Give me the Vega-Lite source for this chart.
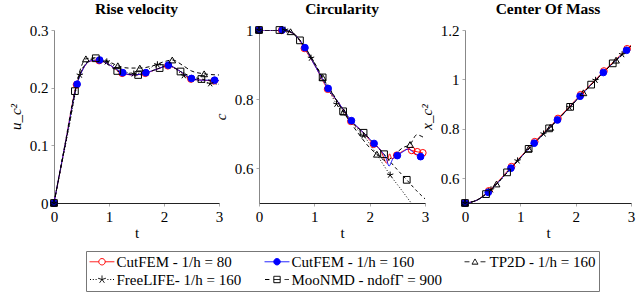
{
"$schema": "https://vega.github.io/schema/vega-lite/v6.json",
"padding": {"left": 8, "top": 1, "right": 5, "bottom": 3},
"background": "white",
"spacing": 40,
"bounds": "flush",
"datasets": {"d": [
{"p":"r","s":"R80","t":0,"v":0,"m":1},{"p":"r","s":"R80","t":0.41,"v":0.205,"m":1},{"p":"r","s":"R80","t":0.82,"v":0.247,"m":1},{"p":"r","s":"R80","t":1.24,"v":0.225,"m":1},{"p":"r","s":"R80","t":1.66,"v":0.225,"m":1},{"p":"r","s":"R80","t":2.07,"v":0.238,"m":1},{"p":"r","s":"R80","t":2.49,"v":0.215,"m":1},{"p":"r","s":"R80","t":2.91,"v":0.212,"m":1},
{"p":"r","s":"R80","t":0.2,"v":0.1,"m":0},{"p":"r","s":"R80","t":0.55,"v":0.236,"m":0},{"p":"r","s":"R80","t":0.65,"v":0.246,"m":0},{"p":"r","s":"R80","t":1.0,"v":0.24,"m":0},{"p":"r","s":"R80","t":1.45,"v":0.222,"m":0},{"p":"r","s":"R80","t":1.9,"v":0.233,"m":0},{"p":"r","s":"R80","t":2.25,"v":0.231,"m":0},{"p":"r","s":"R80","t":2.7,"v":0.213,"m":0},{"p":"r","s":"R80","t":3.0,"v":0.212,"m":0},
{"p":"r","s":"B160","t":0,"v":0,"m":1},{"p":"r","s":"B160","t":0.42,"v":0.206,"m":1},{"p":"r","s":"B160","t":0.83,"v":0.248,"m":1},{"p":"r","s":"B160","t":1.25,"v":0.226,"m":1},{"p":"r","s":"B160","t":1.67,"v":0.226,"m":1},{"p":"r","s":"B160","t":2.08,"v":0.239,"m":1},{"p":"r","s":"B160","t":2.5,"v":0.216,"m":1},{"p":"r","s":"B160","t":2.92,"v":0.213,"m":1},
{"p":"r","s":"B160","t":0.2,"v":0.1,"m":0},{"p":"r","s":"B160","t":0.55,"v":0.236,"m":0},{"p":"r","s":"B160","t":0.65,"v":0.246,"m":0},{"p":"r","s":"B160","t":1.0,"v":0.24,"m":0},{"p":"r","s":"B160","t":1.45,"v":0.222,"m":0},{"p":"r","s":"B160","t":1.9,"v":0.233,"m":0},{"p":"r","s":"B160","t":2.25,"v":0.231,"m":0},{"p":"r","s":"B160","t":2.7,"v":0.213,"m":0},{"p":"r","s":"B160","t":3.0,"v":0.212,"m":0},
{"p":"r","s":"TP","t":0,"v":0,"m":1},{"p":"r","s":"TP","t":0.58,"v":0.25,"m":1},{"p":"r","s":"TP","t":1.16,"v":0.238,"m":1},{"p":"r","s":"TP","t":1.56,"v":0.234,"m":1},{"p":"r","s":"TP","t":2.15,"v":0.248,"m":1},{"p":"r","s":"TP","t":2.73,"v":0.224,"m":1},
{"p":"r","s":"TP","t":0.3,"v":0.148,"m":0},{"p":"r","s":"TP","t":0.45,"v":0.222,"m":0},{"p":"r","s":"TP","t":0.8,"v":0.252,"m":0},{"p":"r","s":"TP","t":1.0,"v":0.245,"m":0},{"p":"r","s":"TP","t":1.35,"v":0.234,"m":0},{"p":"r","s":"TP","t":1.8,"v":0.238,"m":0},{"p":"r","s":"TP","t":2.0,"v":0.245,"m":0},{"p":"r","s":"TP","t":2.35,"v":0.238,"m":0},{"p":"r","s":"TP","t":2.5,"v":0.229,"m":0},{"p":"r","s":"TP","t":3.0,"v":0.222,"m":0},
{"p":"r","s":"FL","t":0,"v":0,"m":1},{"p":"r","s":"FL","t":0.47,"v":0.222,"m":1},{"p":"r","s":"FL","t":0.96,"v":0.245,"m":1},{"p":"r","s":"FL","t":1.45,"v":0.224,"m":1},{"p":"r","s":"FL","t":1.88,"v":0.24,"m":1},{"p":"r","s":"FL","t":2.36,"v":0.221,"m":1},{"p":"r","s":"FL","t":2.84,"v":0.207,"m":1},
{"p":"r","s":"FL","t":0.25,"v":0.12,"m":0},{"p":"r","s":"FL","t":0.7,"v":0.25,"m":0},{"p":"r","s":"FL","t":1.2,"v":0.232,"m":0},{"p":"r","s":"FL","t":1.65,"v":0.228,"m":0},{"p":"r","s":"FL","t":2.1,"v":0.238,"m":0},{"p":"r","s":"FL","t":2.6,"v":0.213,"m":0},{"p":"r","s":"FL","t":3.0,"v":0.206,"m":0},
{"p":"r","s":"MN","t":0,"v":0,"m":1},{"p":"r","s":"MN","t":0.38,"v":0.194,"m":1},{"p":"r","s":"MN","t":0.76,"v":0.251,"m":1},{"p":"r","s":"MN","t":1.15,"v":0.229,"m":1},{"p":"r","s":"MN","t":1.53,"v":0.222,"m":1},{"p":"r","s":"MN","t":1.92,"v":0.234,"m":1},{"p":"r","s":"MN","t":2.3,"v":0.228,"m":1},{"p":"r","s":"MN","t":2.68,"v":0.215,"m":1},
{"p":"r","s":"MN","t":0.2,"v":0.102,"m":0},{"p":"r","s":"MN","t":0.55,"v":0.238,"m":0},{"p":"r","s":"MN","t":0.95,"v":0.242,"m":0},{"p":"r","s":"MN","t":1.35,"v":0.224,"m":0},{"p":"r","s":"MN","t":1.72,"v":0.227,"m":0},{"p":"r","s":"MN","t":2.1,"v":0.238,"m":0},{"p":"r","s":"MN","t":2.5,"v":0.219,"m":0},{"p":"r","s":"MN","t":2.9,"v":0.212,"m":0},{"p":"r","s":"MN","t":3.0,"v":0.211,"m":0},

{"p":"c","s":"R80","t":0,"v":1,"m":1},{"p":"c","s":"R80","t":0.41,"v":0.999,"m":1},{"p":"c","s":"R80","t":0.82,"v":0.947,"m":1},{"p":"c","s":"R80","t":1.24,"v":0.829,"m":1},{"p":"c","s":"R80","t":1.66,"v":0.736,"m":1},{"p":"c","s":"R80","t":2.07,"v":0.67,"m":1},{"p":"c","s":"R80","t":2.49,"v":0.638,"m":1},{"p":"c","s":"R80","t":2.76,"v":0.652,"m":1},{"p":"c","s":"R80","t":2.86,"v":0.648,"m":1},{"p":"c","s":"R80","t":2.96,"v":0.645,"m":1},
{"p":"c","s":"R80","t":0.2,"v":1,"m":0},{"p":"c","s":"R80","t":0.55,"v":0.995,"m":0},{"p":"c","s":"R80","t":0.7,"v":0.978,"m":0},{"p":"c","s":"R80","t":1.0,"v":0.9,"m":0},{"p":"c","s":"R80","t":1.45,"v":0.787,"m":0},{"p":"c","s":"R80","t":1.85,"v":0.709,"m":0},{"p":"c","s":"R80","t":2.2,"v":0.652,"m":0},{"p":"c","s":"R80","t":2.31,"v":0.615,"m":0},{"p":"c","s":"R80","t":2.36,"v":0.642,"m":0},{"p":"c","s":"R80","t":2.4,"v":0.628,"m":0},{"p":"c","s":"R80","t":2.6,"v":0.65,"m":0},{"p":"c","s":"R80","t":2.7,"v":0.656,"m":0},
{"p":"c","s":"B160","t":0,"v":1,"m":1},{"p":"c","s":"B160","t":0.42,"v":1,"m":1},{"p":"c","s":"B160","t":0.83,"v":0.949,"m":1},{"p":"c","s":"B160","t":1.25,"v":0.831,"m":1},{"p":"c","s":"B160","t":1.67,"v":0.738,"m":1},{"p":"c","s":"B160","t":2.08,"v":0.672,"m":1},{"p":"c","s":"B160","t":2.5,"v":0.637,"m":1},{"p":"c","s":"B160","t":2.92,"v":0.634,"m":1},
{"p":"c","s":"B160","t":0.2,"v":1,"m":0},{"p":"c","s":"B160","t":0.55,"v":0.996,"m":0},{"p":"c","s":"B160","t":0.7,"v":0.978,"m":0},{"p":"c","s":"B160","t":1.0,"v":0.9,"m":0},{"p":"c","s":"B160","t":1.45,"v":0.787,"m":0},{"p":"c","s":"B160","t":1.85,"v":0.709,"m":0},{"p":"c","s":"B160","t":2.2,"v":0.652,"m":0},{"p":"c","s":"B160","t":2.3,"v":0.628,"m":0},{"p":"c","s":"B160","t":2.35,"v":0.607,"m":0},{"p":"c","s":"B160","t":2.42,"v":0.628,"m":0},{"p":"c","s":"B160","t":2.6,"v":0.648,"m":0},{"p":"c","s":"B160","t":2.7,"v":0.656,"m":0},{"p":"c","s":"B160","t":2.8,"v":0.645,"m":0},
{"p":"c","s":"TP","t":0,"v":1,"m":1},{"p":"c","s":"TP","t":0.57,"v":0.995,"m":1},{"p":"c","s":"TP","t":1.15,"v":0.863,"m":1},{"p":"c","s":"TP","t":1.53,"v":0.763,"m":1},{"p":"c","s":"TP","t":2.13,"v":0.641,"m":1},{"p":"c","s":"TP","t":2.73,"v":0.669,"m":1},
{"p":"c","s":"TP","t":0.3,"v":1,"m":0},{"p":"c","s":"TP","t":0.8,"v":0.958,"m":0},{"p":"c","s":"TP","t":1.0,"v":0.905,"m":0},{"p":"c","s":"TP","t":1.35,"v":0.81,"m":0},{"p":"c","s":"TP","t":1.8,"v":0.7,"m":0},{"p":"c","s":"TP","t":2.0,"v":0.66,"m":0},{"p":"c","s":"TP","t":2.3,"v":0.622,"m":0},{"p":"c","s":"TP","t":2.45,"v":0.64,"m":0},{"p":"c","s":"TP","t":2.6,"v":0.66,"m":0},{"p":"c","s":"TP","t":2.85,"v":0.697,"m":0},{"p":"c","s":"TP","t":2.97,"v":0.69,"m":0},
{"p":"c","s":"FL","t":0,"v":1,"m":1},{"p":"c","s":"FL","t":0.47,"v":1,"m":1},{"p":"c","s":"FL","t":0.94,"v":0.919,"m":1},{"p":"c","s":"FL","t":1.4,"v":0.786,"m":1},{"p":"c","s":"FL","t":1.89,"v":0.695,"m":1},{"p":"c","s":"FL","t":2.37,"v":0.581,"m":1},
{"p":"c","s":"FL","t":0.25,"v":1,"m":0},{"p":"c","s":"FL","t":0.7,"v":0.975,"m":0},{"p":"c","s":"FL","t":1.15,"v":0.86,"m":0},{"p":"c","s":"FL","t":1.65,"v":0.735,"m":0},{"p":"c","s":"FL","t":2.1,"v":0.647,"m":0},{"p":"c","s":"FL","t":2.25,"v":0.61,"m":0},{"p":"c","s":"FL","t":2.55,"v":0.543,"m":0},{"p":"c","s":"FL","t":2.75,"v":0.5,"m":0},
{"p":"c","s":"MN","t":0,"v":1,"m":1},{"p":"c","s":"MN","t":0.37,"v":1,"m":1},{"p":"c","s":"MN","t":0.74,"v":0.97,"m":1},{"p":"c","s":"MN","t":1.15,"v":0.863,"m":1},{"p":"c","s":"MN","t":1.52,"v":0.765,"m":1},{"p":"c","s":"MN","t":1.89,"v":0.703,"m":1},{"p":"c","s":"MN","t":2.26,"v":0.641,"m":1},{"p":"c","s":"MN","t":2.67,"v":0.567,"m":1},
{"p":"c","s":"MN","t":0.55,"v":0.995,"m":0},{"p":"c","s":"MN","t":0.95,"v":0.92,"m":0},{"p":"c","s":"MN","t":1.35,"v":0.812,"m":0},{"p":"c","s":"MN","t":1.7,"v":0.73,"m":0},{"p":"c","s":"MN","t":2.08,"v":0.672,"m":0},{"p":"c","s":"MN","t":2.45,"v":0.605,"m":0},{"p":"c","s":"MN","t":2.85,"v":0.535,"m":0},{"p":"c","s":"MN","t":3.0,"v":0.512,"m":0},

{"p":"m","s":"R80","t":0,"v":0.5,"m":1},{"p":"m","s":"R80","t":0.43,"v":0.549,"m":1},{"p":"m","s":"R80","t":0.84,"v":0.647,"m":1},{"p":"m","s":"R80","t":1.26,"v":0.748,"m":1},{"p":"m","s":"R80","t":1.68,"v":0.842,"m":1},{"p":"m","s":"R80","t":2.09,"v":0.938,"m":1},{"p":"m","s":"R80","t":2.51,"v":1.034,"m":1},{"p":"m","s":"R80","t":2.93,"v":1.124,"m":1},
{"p":"m","s":"R80","t":0.2,"v":0.51,"m":0},{"p":"m","s":"R80","t":3.0,"v":1.139,"m":0},
{"p":"m","s":"B160","t":0,"v":0.5,"m":1},{"p":"m","s":"B160","t":0.42,"v":0.543,"m":1},{"p":"m","s":"B160","t":0.83,"v":0.641,"m":1},{"p":"m","s":"B160","t":1.25,"v":0.742,"m":1},{"p":"m","s":"B160","t":1.67,"v":0.836,"m":1},{"p":"m","s":"B160","t":2.08,"v":0.932,"m":1},{"p":"m","s":"B160","t":2.5,"v":1.028,"m":1},{"p":"m","s":"B160","t":2.92,"v":1.118,"m":1},
{"p":"m","s":"B160","t":0.2,"v":0.51,"m":0},{"p":"m","s":"B160","t":0.6,"v":0.584,"m":0},{"p":"m","s":"B160","t":3.0,"v":1.135,"m":0},
{"p":"m","s":"TP","t":0,"v":0.5,"m":1},{"p":"m","s":"TP","t":0.57,"v":0.577,"m":1},{"p":"m","s":"TP","t":1.15,"v":0.719,"m":1},{"p":"m","s":"TP","t":1.54,"v":0.806,"m":1},{"p":"m","s":"TP","t":2.14,"v":0.946,"m":1},{"p":"m","s":"TP","t":2.73,"v":1.078,"m":1},
{"p":"m","s":"TP","t":0.2,"v":0.51,"m":0},{"p":"m","s":"TP","t":0.38,"v":0.536,"m":0},{"p":"m","s":"TP","t":3.0,"v":1.135,"m":0},
{"p":"m","s":"FL","t":0,"v":0.5,"m":1},{"p":"m","s":"FL","t":0.47,"v":0.554,"m":1},{"p":"m","s":"FL","t":0.95,"v":0.671,"m":1},{"p":"m","s":"FL","t":1.42,"v":0.78,"m":1},{"p":"m","s":"FL","t":1.89,"v":0.887,"m":1},{"p":"m","s":"FL","t":2.36,"v":0.997,"m":1},{"p":"m","s":"FL","t":2.84,"v":1.101,"m":1},
{"p":"m","s":"FL","t":0.2,"v":0.51,"m":0},{"p":"m","s":"FL","t":3.0,"v":1.135,"m":0},
{"p":"m","s":"MN","t":0,"v":0.5,"m":1},{"p":"m","s":"MN","t":0.38,"v":0.536,"m":1},{"p":"m","s":"MN","t":0.76,"v":0.624,"m":1},{"p":"m","s":"MN","t":1.15,"v":0.719,"m":1},{"p":"m","s":"MN","t":1.52,"v":0.802,"m":1},{"p":"m","s":"MN","t":1.9,"v":0.889,"m":1},{"p":"m","s":"MN","t":2.28,"v":0.979,"m":1},{"p":"m","s":"MN","t":2.67,"v":1.065,"m":1},
{"p":"m","s":"MN","t":0.2,"v":0.51,"m":0},{"p":"m","s":"MN","t":3.0,"v":1.135,"m":0}
]},
"data": {"name": "d"},
"hconcat": [
{
 "title": "Rise velocity",
 "width": 165, "height": 173,
 "transform": [{"filter": "datum.p === 'r'"}],
 "encoding": {
  "x": {"field": "t", "type": "quantitative", "scale": {"domain": [0, 3], "nice": false}, "axis": {"values": [0, 1, 2, 3], "title": "t"}},
  "y": {"field": "v", "type": "quantitative", "scale": {"domain": [0, 0.3], "nice": false, "zero": false}, "axis": {"values": [0, 0.1, 0.2, 0.3], "format": "~g", "title": "u_c²", "titleFontStyle": "italic"}}
 },
 "layer": [
  {"mark": {"type": "line", "strokeWidth": 1, "interpolate": "monotone"},
   "encoding": {
    "stroke": {"field": "s", "type": "nominal", "scale": {"domain": ["R80", "B160", "TP", "FL", "MN"], "range": ["#ff0000", "#0000ff", "#000000", "#000000", "#000000"]},
     "legend": {"title": null, "orient": "none", "legendX": 32, "legendY": 221, "direction": "horizontal", "columns": 3,
      "labelExpr": "['CutFEM - 1/h = 80','CutFEM - 1/h = 160','TP2D - 1/h = 160','FreeLIFE- 1/h = 160','MooNMD - ndofΓ = 900'][indexof(['R80','B160','TP','FL','MN'], datum.value)]",
      "symbolSize": 64, "symbolOffset": 5.5, "labelOffset": 7, "columnPadding": 20, "rowPadding": 2,
      "labelFont": "Liberation Serif, DejaVu Serif, serif", "labelFontSize": 15, "labelColor": "#000", "labelLimit": 400,
      "strokeColor": "#777", "padding": 3, "fillColor": "white",
      "encode": {"symbols": {"update": {
        "shape": {"signal": "['M-3.1,0L-0.8,0M0.8,0L3.1,0M-0.8,0A0.8,0.8 0 1,1 0.8,0A0.8,0.8 0 1,1 -0.8,0Z','M-3.1,0L3.1,0M-0.8,0A0.8,0.8 0 1,1 0.8,0A0.8,0.8 0 1,1 -0.8,0Z','M-2.6,0L-1.4,0M1.4,0L2.6,0M-0.75,0.6L0.75,0.6L0,-0.7Z','M-3,0L-2.75,0M-2.3,0L-2.05,0M-1.6,0L-1.35,0M1.35,0L1.6,0M2.05,0L2.3,0M2.75,0L3,0M0,0L0,-1M0,0L0.951,-0.309M0,0L0.588,0.809M0,0L-0.588,0.809M0,0L-0.951,-0.309','M-3,0L-1.9,0M1.9,0L3,0M-0.8,-0.8L0.8,-0.8L0.8,0.8L-0.8,0.8ZM-0.8,0L0.8,0'][indexof(['R80','B160','TP','FL','MN'], datum.value)]"},
        "fill": {"signal": "datum.value === 'B160' ? '#0000ff' : 'transparent'"},
        "strokeWidth": {"value": 1}, "strokeDash": {"value": [1, 0]}, "opacity": {"value": 1}}}}}},
    "strokeDash": {"field": "s", "type": "nominal", "scale": {"domain": ["B160", "R80", "TP", "FL", "MN"], "range": [[1, 0], [1, 0], [4, 3], [1, 2], [3, 3]]}, "legend": null}
   }},
  {"transform": [{"filter": "datum.m === 1"}],
   "mark": {"type": "point", "opacity": 1, "strokeWidth": 1, "size": 45},
   "encoding": {
    "stroke": {"field": "s", "type": "nominal"},
    "fill": {"field": "s", "type": "nominal", "scale": {"domain": ["B160", "R80", "TP", "FL", "MN"], "range": ["#0000ff", "transparent", "transparent", "transparent", "transparent"]}, "legend": null},
    "shape": {"field": "s", "type": "nominal", "scale": {"domain": ["B160", "R80", "TP", "FL", "MN"], "range": ["circle", "circle", "triangle-up", "M0,0L0,-1M0,0L0.951,-0.309M0,0L0.588,0.809M0,0L-0.588,0.809M0,0L-0.951,-0.309", "square"]}, "legend": null}
   }}
 ]
},
{
 "title": "Circularity",
 "width": 166, "height": 173,
 "transform": [{"filter": "datum.p === 'c'"}],
 "encoding": {
  "x": {"field": "t", "type": "quantitative", "scale": {"domain": [0, 3], "nice": false}, "axis": {"values": [0, 1, 2, 3], "title": "t"}},
  "y": {"field": "v", "type": "quantitative", "scale": {"domain": [0.5, 1], "nice": false, "zero": false}, "axis": {"values": [0.6, 0.8, 1], "format": "~g", "title": "c", "titleFontStyle": "italic"}}
 },
 "layer": [
  {"mark": {"type": "line", "strokeWidth": 1, "interpolate": "monotone", "clip": true},
   "encoding": {
    "stroke": {"field": "s", "type": "nominal"},
    "strokeDash": {"field": "s", "type": "nominal", "legend": null}
   }},
  {"transform": [{"filter": "datum.m === 1"}],
   "mark": {"type": "point", "opacity": 1, "strokeWidth": 1, "size": 45},
   "encoding": {
    "stroke": {"field": "s", "type": "nominal"},
    "fill": {"field": "s", "type": "nominal", "legend": null},
    "shape": {"field": "s", "type": "nominal", "legend": null}
   }}
 ]
},
{
 "title": "Center Of Mass",
 "width": 166, "height": 173,
 "transform": [{"filter": "datum.p === 'm'"}],
 "encoding": {
  "x": {"field": "t", "type": "quantitative", "scale": {"domain": [0, 3], "nice": false}, "axis": {"values": [0, 1, 2, 3], "title": "t"}},
  "y": {"field": "v", "type": "quantitative", "scale": {"domain": [0.5, 1.2], "nice": false, "zero": false}, "axis": {"values": [0.6, 0.8, 1, 1.2], "format": "~g", "title": "x_c²", "titleFontStyle": "italic"}}
 },
 "layer": [
  {"mark": {"type": "line", "strokeWidth": 1, "interpolate": "monotone"},
   "encoding": {
    "stroke": {"field": "s", "type": "nominal"},
    "strokeDash": {"field": "s", "type": "nominal", "legend": null}
   }},
  {"transform": [{"filter": "datum.m === 1"}],
   "mark": {"type": "point", "opacity": 1, "strokeWidth": 1, "size": 45},
   "encoding": {
    "stroke": {"field": "s", "type": "nominal"},
    "fill": {"field": "s", "type": "nominal", "legend": null},
    "shape": {"field": "s", "type": "nominal", "legend": null}
   }}
 ]
}
],
"config": {
 "view": {"stroke": null},
 "font": "Liberation Serif, DejaVu Serif, serif",
 "title": {"font": "Liberation Serif, DejaVu Serif, serif", "fontSize": 15.5, "fontWeight": "bold", "offset": 6, "color": "#000"},
 "axis": {"grid": false, "labelFont": "Liberation Serif, DejaVu Serif, serif", "labelFontSize": 15, "labelColor": "#000", "titleFont": "Liberation Serif, DejaVu Serif, serif", "titleFontSize": 15, "titleFontWeight": "normal", "titleColor": "#000", "tickSize": 3, "tickColor": "#aaa", "labelFlush": false, "labelOverlap": false, "labelPadding": 3},
 "axisX": {"domainColor": "#222", "titlePadding": 1},
 "axisY": {"domainColor": "#888", "titlePadding": 6}
}
}
